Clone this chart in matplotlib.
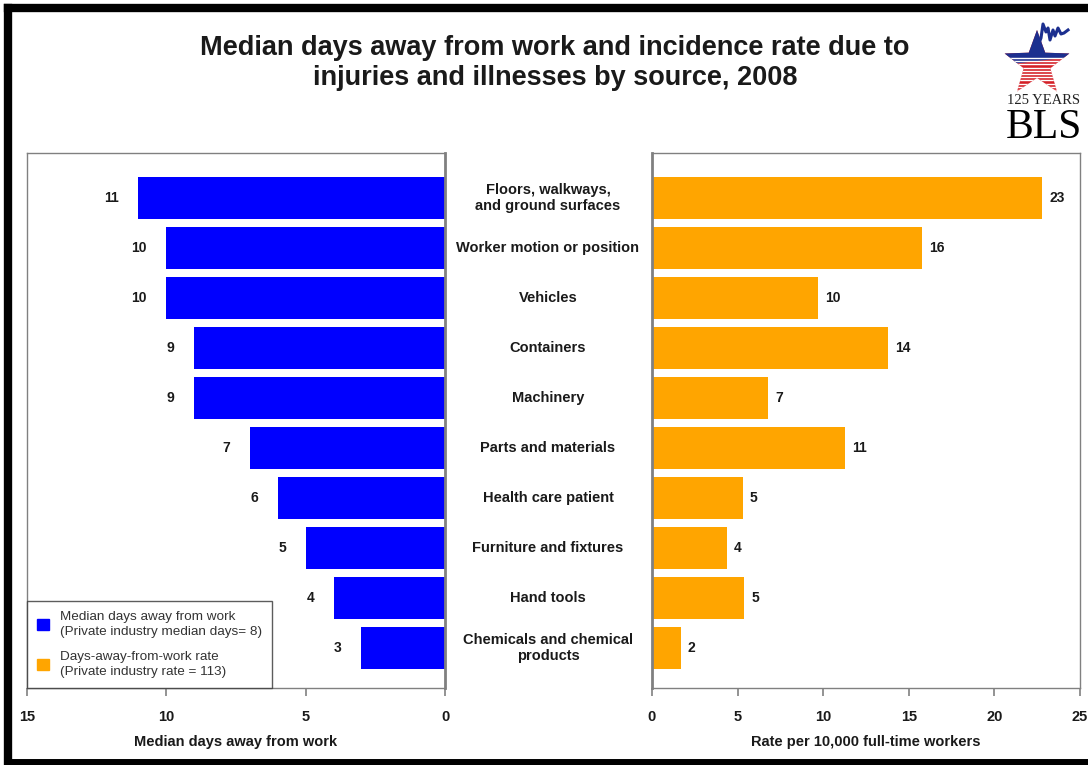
import numpy as np
import matplotlib
matplotlib.use('Agg')
import matplotlib.pyplot as plt
from matplotlib.patches import Polygon, Rectangle
from matplotlib.lines import Line2D

plt.rcParams['font.family'] = ['Liberation Sans', 'DejaVu Sans']

sources = ['Floors, walkways,\nand ground surfaces', 'Worker motion or position', 'Vehicles',
           'Containers', 'Machinery', 'Parts and materials', 'Health care patient',
           'Furniture and fixtures', 'Hand tools', 'Chemicals and chemical\nproducts']
median_days = [11, 10, 10, 9, 9, 7, 6, 5, 4, 3]
rates = [22.8, 15.8, 9.7, 13.8, 6.8, 11.3, 5.3, 4.4, 5.4, 1.7]
rate_labels = [23, 16, 10, 14, 7, 11, 5, 4, 5, 2]
left_ticks = [15, 10, 5, 0]
right_ticks = [0, 5, 10, 15, 20, 25]

blue = '#0000FF'
orange = '#FFA500'
spine_col = '#808080'
txt_col = '#1a1a1a'

fig = plt.figure(figsize=(10.88, 7.65), dpi=100)
W, H = 1088, 765

def ax_rect(x0, y0, x1, y1):
    return [x0 / W, 1 - y1 / H, (x1 - x0) / W, (y1 - y0) / H]

axL = fig.add_axes(ax_rect(27, 153, 445, 688))
axR = fig.add_axes(ax_rect(652, 153, 1080, 688))
y = np.arange(len(sources))

# left panel
axL.barh(y, median_days, height=0.84, color=blue, edgecolor='none')
axL.set_xlim(15, 0)
axL.set_ylim(9.8, -0.9)
for yi, v in zip(y, median_days):
    axL.text(v + 0.7, yi, str(v), ha='right', va='center', fontsize=10, fontweight='bold', color=txt_col)
axL.set_xticks(left_ticks)
axL.set_xlabel('Median days away from work', fontsize=10.5, fontweight='bold', color=txt_col, labelpad=8)

# right panel
axR.barh(y, rates, height=0.84, color=orange, edgecolor='none')
axR.set_xlim(0, 25)
axR.set_ylim(9.8, -0.9)
for yi, v, lab in zip(y, rates, rate_labels):
    axR.text(v + 0.4, yi, str(lab), ha='left', va='center', fontsize=10, fontweight='bold', color=txt_col)
axR.set_xticks(right_ticks)
axR.set_xlabel('Rate per 10,000 full-time workers', fontsize=10.5, fontweight='bold', color=txt_col, labelpad=8)

for ax in (axL, axR):
    ax.set_yticks([])
    for s in ax.spines.values():
        s.set_color(spine_col)
        s.set_linewidth(1.0)
    ax.tick_params(axis='x', direction='out', length=6, width=1.2, color=spine_col, pad=10,
                   labelsize=10.5, labelcolor=txt_col)
    for t in ax.get_xticklabels():
        t.set_fontweight('bold')
axL.spines['right'].set_linewidth(2.0)
axR.spines['left'].set_linewidth(2.0)

# category labels between panels
xmid = 548 / W
for yi, s in zip(y, sources):
    yy = axL.transData.transform((0, yi))[1]
    fig.text(xmid, yy / (fig.dpi * 7.65), s, ha='center', va='center', fontsize=10.5,
             fontweight='bold', color=txt_col, linespacing=1.25)

# legend
hL = [Rectangle((0, 0), 1, 1, color=blue), Rectangle((0, 0), 1, 1, color=orange)]
leg = axL.legend(hL, ['Median days away from work\n(Private industry median days= 8)',
                      'Days-away-from-work rate\n(Private industry rate = 113)'],
                 loc='lower left', bbox_to_anchor=(0, 0), fontsize=9.7, frameon=True, fancybox=False,
                 borderaxespad=0, handlelength=0.9, handleheight=0.9, labelspacing=1.0,
                 borderpad=0.75, handletextpad=0.8)
leg.get_frame().set_edgecolor('#333333')
leg.get_frame().set_linewidth(1.0)
for t in leg.get_texts():
    t.set_color('#333333')
    t.set_linespacing(1.3)

# title
fig.text(555 / W, 1 - 63 / H, 'Median days away from work and incidence rate due to\ninjuries and illnesses by source, 2008',
         ha='center', va='center', fontsize=19.5, fontweight='bold', color=txt_col, linespacing=1.2)

# outer black frame
fig.add_artist(Line2D([8 / W, 1.0], [1 - 8 / H, 1 - 8 / H], color='black', lw=6, transform=fig.transFigure))
fig.add_artist(Line2D([8 / W, 8 / W], [1 - 8 / H, 1 - 762 / H], color='black', lw=6, transform=fig.transFigure))
fig.add_artist(Line2D([8 / W, 1.0], [1 - 762 / H, 1 - 762 / H], color='black', lw=5, transform=fig.transFigure))

# BLS logo
axLogo = fig.add_axes(ax_rect(995, 15, 1088, 150))
axLogo.set_xlim(995, 1088)
axLogo.set_ylim(150, 15)
axLogo.axis('off')
cx, cy, ro, ri = 1037, 64, 34, 14
ang = np.deg2rad(-90 + np.arange(10) * 36)
rad = np.where(np.arange(10) % 2 == 0, ro, ri)
star = np.column_stack([cx + rad * np.cos(ang), cy + rad * np.sin(ang)])
star_patch = Polygon(star, closed=True, facecolor='#d42027', edgecolor='none')
axLogo.add_patch(star_patch)
for sy in np.arange(58, 100, 3.2):
    ln = Line2D([995, 1088], [sy, sy], color='white', lw=1.0)
    axLogo.add_line(ln)
    ln.set_clip_path(star_patch)
blue_top = Polygon([(995, 15), (1088, 15), (1088, 55), (995, 66)], closed=True,
                   facecolor='#1c2f8f', edgecolor='none')
axLogo.add_patch(blue_top)
blue_top.set_clip_path(star_patch)
axLogo.plot([1038, 1041, 1043, 1046, 1048, 1050, 1053, 1055, 1058, 1061, 1064, 1068],
            [46, 38, 24, 32, 28, 40, 30, 36, 28, 34, 33, 30], color='#1c2f8f', lw=2.2)
axLogo.text(1044, 101, '125 YEARS', ha='center', va='center', fontsize=10.5,
            family='Liberation Serif', color='#222222')
axLogo.text(1044, 128, 'BLS', ha='center', va='center', fontsize=30,
            family='Liberation Serif', color='black')

fig.savefig('out.png', dpi=100)
